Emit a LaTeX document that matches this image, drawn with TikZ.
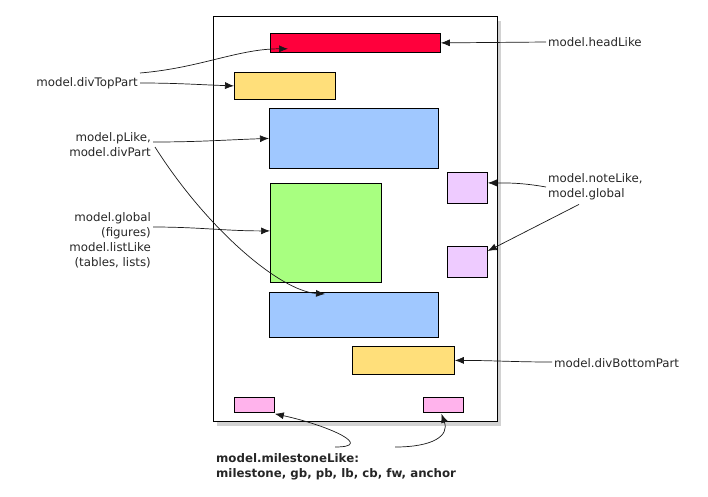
\documentclass[tikz,border=0pt]{standalone}
\usepackage{fontspec}
\setmainfont{DejaVu Sans}
\usetikzlibrary{shadows, arrows.meta}
\definecolor{headred}{HTML}{FF003C}
\definecolor{partyellow}{HTML}{FFDF7A}
\definecolor{pblue}{HTML}{A0C8FF}
\definecolor{globalgreen}{HTML}{A8FF80}
\definecolor{notepurple}{HTML}{EECBFF}
\definecolor{mspink}{HTML}{FFB3EC}
\begin{document}
\begin{tikzpicture}[x=1pt, y=-1pt, font=\fontsize{11.8}{15}\selectfont,
  box/.style = {draw, line width=0.8pt, anchor=north west, inner sep=0pt},
  lbl/.style = {inner sep=2pt, text=black!85},
  arr/.style = {->, >={Latex[length=9pt, width=7pt]}, line width=0.7pt, black!90}]
\useasboundingbox (0,0) rectangle (708,496);

% page
\node[draw, line width=1pt, fill=white, anchor=north west, inner sep=0pt,
      minimum width=284pt, minimum height=405pt,
      drop shadow={shadow xshift=3pt, shadow yshift=-4pt, fill=black!35}] (page) at (213,16) {};

% boxes
\node[box, fill=headred, minimum width=170pt, minimum height=19pt] (head) at (270,33) {};
\node[box, fill=partyellow, minimum width=101pt, minimum height=27pt] (top) at (234,72) {};
\node[box, fill=pblue, minimum width=169pt, minimum height=60pt] (p1) at (269,108) {};
\node[box, fill=notepurple, minimum width=40pt, minimum height=31pt] (note1) at (447,172) {};
\node[box, fill=globalgreen, minimum width=111pt, minimum height=99pt] (fig) at (270,183) {};
\node[box, fill=notepurple, minimum width=40pt, minimum height=31pt] (note2) at (447,246) {};
\node[box, fill=pblue, minimum width=169pt, minimum height=45pt] (p2) at (269,292) {};
\node[box, fill=partyellow, minimum width=102pt, minimum height=28pt] (bottom) at (352,346) {};
\node[box, fill=mspink, minimum width=40pt, minimum height=15pt] (ms1) at (234,397) {};
\node[box, fill=mspink, minimum width=40pt, minimum height=15pt] (ms2) at (423,397) {};

% labels
\node[lbl, anchor=west] (headlbl) at (546,42) {model.headLike};
\node[lbl, anchor=east] (toplbl) at (140,83) {model.divTopPart};
\node[lbl, anchor=east, align=right] (plbl) at (153,145) {model.pLike,\\model.divPart};
\node[lbl, anchor=east, align=right] (globallbl) at (153,240) {model.global\\(figures)\\model.listLike\\(tables, lists)};
\node[lbl, anchor=west, align=left] (notelbl) at (546,187) {model.noteLike,\\model.global};
\node[lbl, anchor=west] (bottomlbl) at (552,363) {model.divBottomPart};
\node[lbl, anchor=north west, align=left, font=\fontsize{11.8}{15}\selectfont\bfseries] (mslbl) at (214,451) {model.milestoneLike:\\milestone, gb, pb, lb, cb, fw, anchor};

% connectors
\draw[arr] (headlbl.west) -- (head.east);
\draw[arr] (toplbl.east) to[out=0, in=178] (top.west);
\draw[arr] ([yshift=10pt]toplbl.east) .. controls +(60,-5) and +(-50,0) .. ([xshift=18pt,yshift=4pt]head.south west);
\draw[arr] ([yshift=3pt]plbl.east) to[out=0, in=182] (p1.west);
\draw[arr] ([xshift=2pt,yshift=-2pt]plbl.east) .. controls +(52,82) and +(-45,-3) .. ([xshift=56pt,yshift=-2pt]p2.north west);
\draw[arr] ([yshift=13pt]globallbl.east) to[out=0, in=180] ([yshift=2pt]fig.west);
\draw[arr] (notelbl.west) to[out=170, in=0] ([yshift=5pt]note1.east);
\draw[arr] ([xshift=33pt,yshift=-2pt]notelbl.south west) -- ([yshift=-5pt]note2.north east);
\draw[arr] ([yshift=1pt]bottomlbl.west) to[out=180, in=0] (bottom.east);
\draw[arr] ([xshift=121pt,yshift=4pt]mslbl.north west) .. controls +(40,0) and +(55,12) .. ([yshift=-1pt]ms1.south east);
\draw[arr] ([xshift=181pt,yshift=4pt]mslbl.north west) .. controls +(38,0) and +(8,22) .. ([xshift=-2pt,yshift=-1pt]ms2.south);

\end{tikzpicture}
\end{document}
